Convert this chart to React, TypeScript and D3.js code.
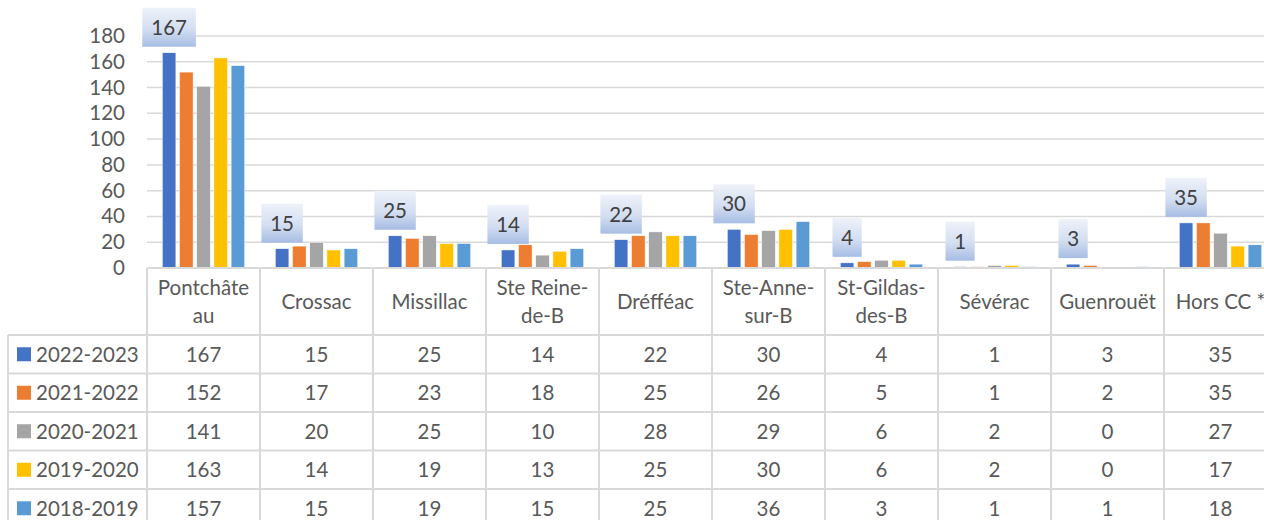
import React from 'react';
import * as d3 from 'd3';

const categories = ['Pontchâteau', 'Crossac', 'Missillac', 'Ste Reine-de-B', 'Dréfféac', 'Ste-Anne-sur-B', 'St-Gildas-des-B', 'Sévérac', 'Guenrouët', 'Hors CC *'];
const categoryLines = [['Pontchâte', 'au'], ['Crossac'], ['Missillac'], ['Ste Reine-', 'de-B'], ['Dréfféac'], ['Ste-Anne-', 'sur-B'], ['St-Gildas-', 'des-B'], ['Sévérac'], ['Guenrouët'], ['Hors CC *']];

const seriesNames = ['2022-2023', '2021-2022', '2020-2021', '2019-2020', '2018-2019'];
const seriesColors = ['#4472c4', '#ed7d31', '#a5a5a5', '#ffc000', '#5b9bd5'];

const s2022 = [167, 15, 25, 14, 22, 30, 4, 1, 3, 35];
const s2021 = [152, 17, 23, 18, 25, 26, 5, 1, 2, 35];
const s2020 = [141, 20, 25, 10, 28, 29, 6, 2, 0, 27];
const s2019 = [163, 14, 19, 13, 25, 30, 6, 2, 0, 17];
const s2018 = [157, 15, 19, 15, 25, 36, 3, 1, 1, 18];
const seriesValues = [s2022, s2021, s2020, s2019, s2018];

const yTicks = [0, 20, 40, 60, 80, 100, 120, 140, 160, 180];

const W = 1264;
const H = 520;
const FONT = 'Lato, "Open Sans", sans-serif';
const TEXT = '#595959';
const GRID = '#d9d9d9';

const plotLeft = 147;
const bandW = 113;
const x = d3.scaleBand<string>().domain(categories).range([plotLeft, plotLeft + bandW * categories.length]);
const xs = d3.scaleBand<string>().domain(seriesNames).range([15.3, 97.7]).paddingInner(0.21);
const y = d3.scaleLinear().domain([0, 180]).range([268, 36]);

const headerTop = 268;
const headerBottom = 335;
const rowH = 38.5;

export default function App() {
  const rightEdge = W;
  return (
    <svg width={W} height={H} style={{ position: 'absolute', left: 0, top: 0, background: '#fff', fontFamily: FONT }}>
      <defs>
        <linearGradient id="lblGrad" x1="0" y1="0" x2="0" y2="1">
          <stop offset="0%" stopColor="#eef2f9" />
          <stop offset="55%" stopColor="#d3def1" />
          <stop offset="100%" stopColor="#a7bde4" />
        </linearGradient>
      </defs>

      {/* gridlines */}
      {yTicks.filter(t => t > 0).map(t => (
        <line key={'g' + t} x1={plotLeft} x2={rightEdge} y1={y(t)} y2={y(t)} stroke={GRID} strokeWidth={1.5} />
      ))}

      {/* y axis labels */}
      {yTicks.map(t => (
        <text key={'t' + t} x={125} y={y(t) + 7} textAnchor="end" fontSize={20.5} fill={TEXT}>{t}</text>
      ))}

      {/* bars */}
      {seriesNames.map((s, si) => (
        <g key={s}>
          {categories.map((c, ci) => {
            const v = seriesValues[si][ci];
            if (v === 0) return null;
            return (
              <rect key={c} x={(x(c) as number) + (xs(s) as number)} y={y(v)} width={xs.bandwidth()} height={y(0) - y(v)}
                fill={seriesColors[si]} stroke="#fff" strokeWidth={0.5} />
            );
          })}
        </g>
      ))}

      {/* data labels for first series */}
      {categories.map((c, ci) => {
        const v = s2022[ci];
        const label = String(v);
        const bw = label.length * 12.2 + 17;
        const cx = (x(c) as number) + (xs(seriesNames[0]) as number) + xs.bandwidth() / 2;
        const bottom = y(v) - 6;
        const bh = 39;
        return (
          <g key={'l' + c}>
            <rect x={cx - bw / 2} y={bottom - bh} width={bw} height={bh} fill="url(#lblGrad)" />
            <text x={cx} y={bottom - bh / 2 + 7.5} textAnchor="middle" fontSize={20.5} fill="#404040">{label}</text>
          </g>
        );
      })}

      {/* table lines */}
      <line x1={plotLeft} x2={rightEdge} y1={headerTop} y2={headerTop} stroke={GRID} strokeWidth={2} />
      {categories.map(c => (
        <line key={'v' + c} x1={x(c)} x2={x(c)} y1={headerTop} y2={H} stroke={GRID} strokeWidth={2} />
      ))}
      <line x1={8} x2={8} y1={headerBottom} y2={H} stroke={GRID} strokeWidth={2} />
      {seriesNames.map((s, si) => (
        <line key={'h' + s} x1={8} x2={rightEdge} y1={headerBottom + si * rowH} y2={headerBottom + si * rowH} stroke={GRID} strokeWidth={2} />
      ))}

      {/* header labels */}
      {categories.map((c, ci) => {
        const lines = categoryLines[ci];
        const cx = (x(c) as number) + bandW / 2;
        const mid = (headerTop + headerBottom) / 2;
        return (
          <text key={'hl' + c} textAnchor="middle" fontSize={20.5} fill={TEXT}>
            {lines.map((ln, li) => (
              <tspan key={li} x={cx} y={mid + 7.5 + (li - (lines.length - 1) / 2) * 28}>{ln}</tspan>
            ))}
          </text>
        );
      })}

      {/* rows */}
      {seriesNames.map((s, si) => {
        const mid = headerBottom + si * rowH + rowH / 2;
        return (
          <g key={'r' + s}>
            <rect x={17} y={mid - 7} width={14} height={14} fill={seriesColors[si]} />
            <text x={36} y={mid + 7.3} fontSize={20.5} fill={TEXT}>{s}</text>
            {categories.map((c, ci) => (
              <text key={c} x={(x(c) as number) + bandW / 2} y={mid + 7.3} textAnchor="middle" fontSize={20.5} fill={TEXT}>
                {seriesValues[si][ci]}
              </text>
            ))}
          </g>
        );
      })}
    </svg>
  );
}
